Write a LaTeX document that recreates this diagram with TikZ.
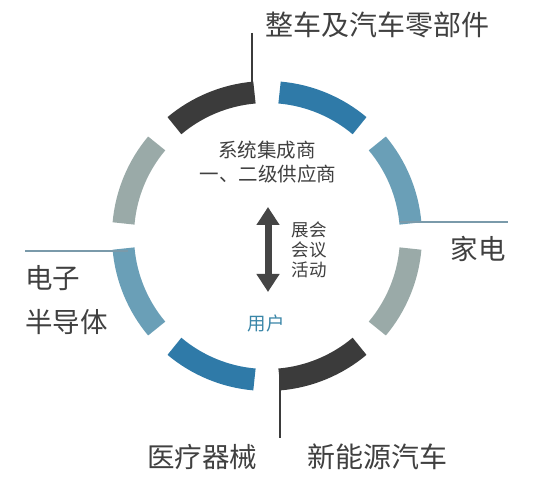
\documentclass[tikz,border=0pt]{standalone}
\usepackage{fontspec}
\setmainfont{Noto Sans CJK SC}
\usetikzlibrary{arrows.meta}
\definecolor{segdark}{HTML}{3B3B3B}
\definecolor{segblue}{HTML}{2F7AA8}
\definecolor{segsteel}{HTML}{6A9FB7}
\definecolor{seggrey}{HTML}{9AAAA8}
\definecolor{txt}{HTML}{404040}
\definecolor{usercol}{HTML}{3A86A8}
\definecolor{leadblue}{HTML}{7A9AAA}
\begin{document}
\begin{tikzpicture}[x=1pt,y=1pt,
  seg/.style={line width=22pt},
  bigtxt/.style={font=\fontsize{27.5}{27.5}\selectfont, text=txt, inner sep=0pt},
  midtxt/.style={font=\fontsize{19.5}{19.5}\selectfont, text=txt, inner sep=0pt},
  smalltxt/.style={font=\fontsize{17.5}{17.5}\selectfont, text=txt, inner sep=0pt},
  leader/.style={line width=2.5pt}]
\fill[white] (0,0) rectangle (536,479);
\useasboundingbox (0,0) rectangle (536,479);
\coordinate (c) at (267,243);
\foreach \a/\col in {95/segdark, 50/segblue, 5/segsteel, -40/seggrey, -85/segdark, -130/segblue, -175/segsteel, 140/seggrey}
  \draw[seg,\col] (c) ++(\a:144) arc[start angle=\a, end angle=\a+35, radius=144];
% leaders
\coordinate (topA) at (252,446);
\coordinate (topB) at (252,377);
\draw[leader,segdark] (topA) -- (topB);
\coordinate (rightA) at (400,257);
\coordinate (rightB) at (508,257);
\draw[leader,leadblue] (rightA) -- (rightB);
\coordinate (leftA) at (25,228);
\coordinate (leftB) at (128,228);
\draw[leader,leadblue] (leftA) -- (leftB);
\coordinate (botA) at (280,110);
\coordinate (botB) at (280,41);
\draw[leader,segdark] (botA) -- (botB);
% outer labels
\node[bigtxt, font=\fontsize{28}{28}\selectfont, anchor=west] (car) at (265,454) {整车及汽车零部件};
\node[bigtxt] (home) at (478,230) {家电};
\node[bigtxt, anchor=west] (elec) at (25,201) {电子};
\node[bigtxt, anchor=west] (semi) at (25,157) {半导体};
\node[bigtxt] (med) at (202,22) {医疗器械};
\node[bigtxt, font=\fontsize{28}{28}\selectfont] (nev) at (377,22) {新能源汽车};
% centre
\node[midtxt] (sys) at (267,329) {系统集成商};
\node[midtxt] (sup) at (268,305) {一、二级供应商};
\coordinate (arrTop) at (268,272);
\coordinate (arrBot) at (268,187);
\draw[line width=7pt, color=segdark!95, {Triangle[length=18pt,width=22pt]}-{Triangle[length=18pt,width=22pt]}] (arrTop) -- (arrBot);
\node[smalltxt] (e1) at (309,249) {展会};
\node[smalltxt] (e2) at (309,229) {会议};
\node[smalltxt] (e3) at (309,209) {活动};
\node[smalltxt, font=\fontsize{18.5}{18.5}\selectfont, text=usercol] (user) at (266,156) {用户};
\end{tikzpicture}
\end{document}
